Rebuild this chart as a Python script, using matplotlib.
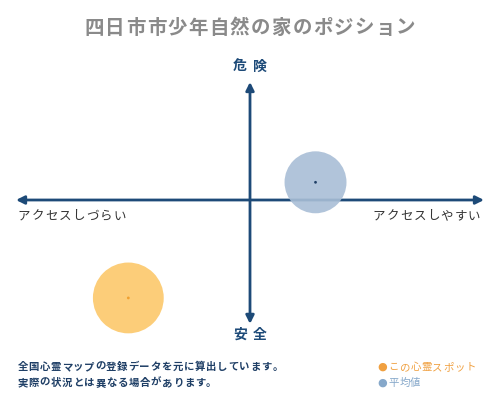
import matplotlib.pyplot as plt

plt.rcParams['font.family'] = ['Noto Sans CJK JP', 'DejaVu Sans']

# Posiciones en el mapa (x: acceso, y: peligro)
puntos_x = [-0.52, 0.28]
puntos_y = [-0.83, 0.15]
tamanos = [2600, 1990]
nombres = ['この心霊スポット', '平均値']
colores_circulo = ['#fcc86a', '#a9bed6']
colores_centro = ['#f0a030', '#1f3f66']
colores_leyenda = ['#f0a040', '#86a8ca']

titulo = '四日市市少年自然の家のポジション'
eje_izq = 'アクセスしづらい'
eje_der = 'アクセスしやすい'
eje_arriba = '危険'
eje_abajo = '安全'
nota = ['全国心霊マップの登録データを元に算出しています。',
        '実際の状況とは異なる場合があります。']

azul = '#1d4a78'

fig = plt.figure(figsize=(5, 4), dpi=100)


def texto(x, y, s, paso, ha='left', **kw):
    # dibuja caracter a caracter para imitar el espaciado (x, y en pixeles)
    n = len(s)
    if ha == 'left':
        x0 = x + paso / 2
    elif ha == 'right':
        x0 = x - paso * (n - 0.5)
    else:
        x0 = x - paso * (n - 1) / 2
    for i, ch in enumerate(s):
        fig.text((x0 + i * paso) / 500, 1 - y / 400, ch, ha='center', va='center', **kw)


# ejes: x de 16 a 484 px, y de 82 a 318 px (centro en 250, 200)
ax = fig.add_axes([16 / 500, (400 - 318) / 400, 468 / 500, 236 / 400])
ax.set_xlim(-1, 1)
ax.set_ylim(-1, 1)
ax.axis('off')

# Flechas de los ejes
flecha = dict(arrowstyle='-|>', color=azul, lw=2, mutation_scale=12, shrinkA=0, shrinkB=0)
for destino in [(1.0, 0), (-1.0, 0), (0, 1.0), (0, -1.05)]:
    ax.annotate('', xy=destino, xytext=(0, 0), arrowprops=flecha, annotation_clip=False)

# Circulos
for x, y, s, c, cc in zip(puntos_x, puntos_y, tamanos, colores_circulo, colores_centro):
    ax.scatter(x, y, s=s, color=c, alpha=0.9, edgecolors='none', zorder=3, clip_on=False)
    ax.scatter(x, y, s=4, color=cc, edgecolors='none', zorder=4, clip_on=False)

# Textos
texto(250, 28, titulo, 20.8, ha='center', fontsize=14, color='#8a8a8a', fontweight='bold')
texto(250, 67, eje_arriba, 20, ha='center', fontsize=10, color=azul, fontweight='bold')
texto(250, 335, eje_abajo, 20, ha='center', fontsize=10, color=azul, fontweight='bold')
texto(17, 216, eje_izq, 13.7, fontsize=9, color='#333333')
texto(481, 216, eje_der, 13.6, ha='right', fontsize=9, color='#333333')

texto(17, 367, nota[0], 11.1, fontsize=7.5, color='#1f3f66', fontweight='bold')
texto(17, 383, nota[1], 11.1, fontsize=7.5, color='#1f3f66', fontweight='bold')

# Leyenda
for i, (nombre, c) in enumerate(zip(nombres, colores_leyenda)):
    yy = 367 + 16 * i
    fig.text(382 / 500, 1 - yy / 400, '●', ha='center', va='center', fontsize=8, color=c,
             family=['DejaVu Sans'])
    texto(388, yy, nombre, 11, fontsize=7.5, color=c)

fig.savefig('out.png', dpi=100)
